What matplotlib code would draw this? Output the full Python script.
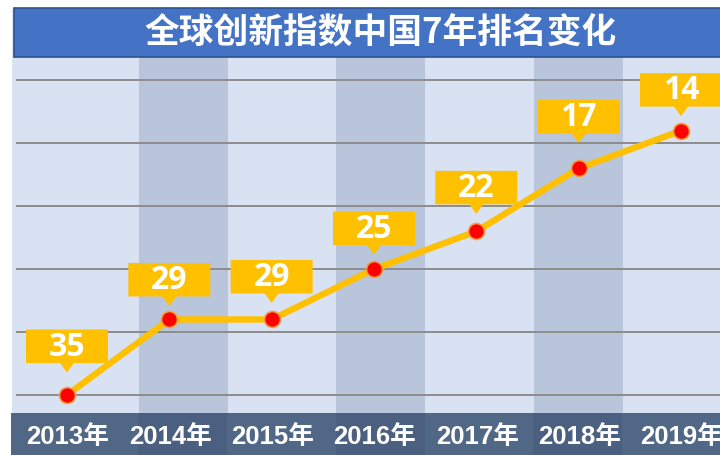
import matplotlib
matplotlib.use('Agg')
import matplotlib.pyplot as plt
from matplotlib.patches import Rectangle, Polygon
import matplotlib.transforms as mtransforms

# ---- data ----
years = ['2013年', '2014年', '2015年', '2016年', '2017年', '2018年', '2019年']
ranks = [35, 29, 29, 25, 22, 17, 14]
title = '全球创新指数中国7年排名变化'
grid_values = [10, 15, 20, 25, 30, 35]
shaded_columns = [1, 3, 5]

# ---- layout (pixels) ----
label_offsets = [32, 23, 26, 24, 27, 35, 24]   # callout bottom above point
W, H, DPI = 720, 455, 100

fig = plt.figure(figsize=(W / DPI, H / DPI), dpi=DPI)
fig.patch.set_facecolor('white')


def px_axes(x0, y0, x1, y1, **kw):
    return fig.add_axes([x0 / W, 1 - y1 / H, (x1 - x0) / W, (y1 - y0) / H], **kw)


def clean(a):
    a.set_xticks([])
    a.set_yticks([])
    for s in a.spines.values():
        s.set_visible(False)


# background with shaded columns
bg = px_axes(12, 8, 720, 413)
bg.set_facecolor('#D9E2F3')
bg.set_xlim(-0.7337, 6.436)
bg.set_ylim(0, 1)
bg.bar(shaded_columns, [1] * len(shaded_columns), width=0.9, color='#B8C5DB', zorder=1)
clean(bg)

# bottom category band
band = px_axes(11, 413, 720, 455)
band.set_facecolor('#516786')
band.set_xlim(-0.7337, 6.436)
band.set_ylim(0, 1)
band.bar(shaded_columns, [1] * len(shaded_columns), width=0.9, color='#4B5F80', zorder=1)
clean(band)

# main data axes
ax = px_axes(12, 57, 720, 413)
ax.patch.set_alpha(0)
ax.set_xlim((12 - 67) / 102.33, (720 - 67) / 102.33)
ax.set_ylim(36.43, 8.15)
clean(ax)

ax.hlines(grid_values, (16 - 67) / 102.33, 7, colors='#8C8C8C', linewidth=1.4, zorder=2)

xs = list(range(len(ranks)))
ax.plot(xs, ranks, color='#FFC000', linewidth=4.6, zorder=3,
        marker='o', markersize=11.5, markerfacecolor='#FF0000',
        markeredgecolor='#F5A040', markeredgewidth=1.2)

# callouts
bw, bh, tip, tw = 41, 33.5, 9.5, 7
for i, v in enumerate(ranks):
    b = label_offsets[i]
    trans = mtransforms.ScaledTranslation(i, v, ax.transData)
    verts = [(-bw, b), (-tw, b), (0, b - tip), (tw, b), (bw, b), (bw, b + bh), (-bw, b + bh)]
    poly = Polygon(verts, closed=True, facecolor='#FFC000', edgecolor='none',
                   transform=trans, zorder=5, clip_on=False)
    ax.add_artist(poly)
    ax.annotate(str(v), xy=(i, v), xytext=(0, b + bh / 2 - 1), textcoords='offset pixels',
                ha='center', va='center', fontsize=23, fontweight='bold',
                color='white', family=['Open Sans', 'DejaVu Sans'], zorder=6,
                annotation_clip=False)

# category labels
lab_trans = mtransforms.blended_transform_factory(ax.transData, band.transAxes)
for i, y in enumerate(years):
    fig.text(i + 0.01, 0.43, y, transform=lab_trans, ha='center', va='center',
             fontsize=18.5, fontweight='bold', color='white',
             family=['Liberation Sans', 'Noto Sans CJK SC'])

# title bar
ident = mtransforms.IdentityTransform()
fig.add_artist(Rectangle((14.3, H - 56.7), 730, 48.4, facecolor='#4472C4',
                         edgecolor='#2F528F', linewidth=1.2, transform=ident, zorder=10))
fig.text(381 / W, 1 - 33 / H, title, ha='center', va='center', fontsize=25,
         fontweight='bold', color='white',
         family=['Noto Sans CJK SC', 'DejaVu Sans'], zorder=11)

fig.savefig('out.png', dpi=DPI)
